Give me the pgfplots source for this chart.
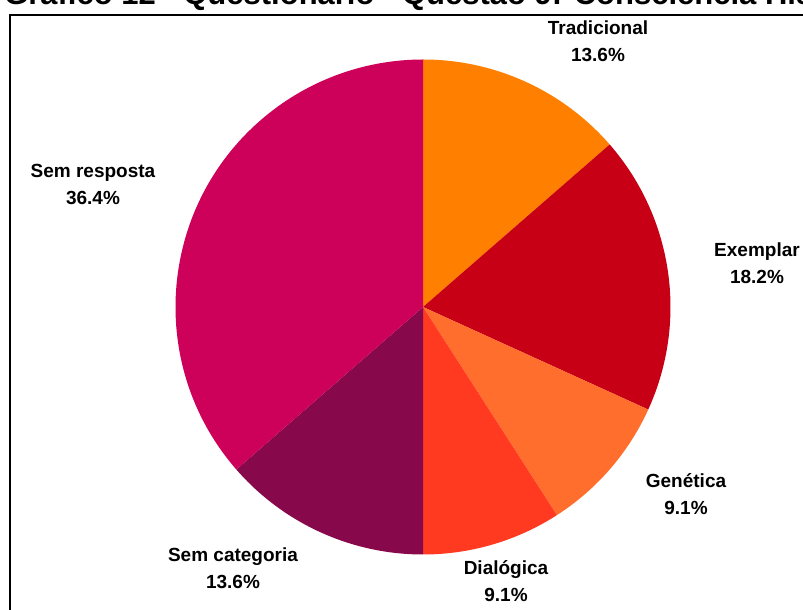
\documentclass[border=0pt]{standalone}
\usepackage{pgfplots}
\pgfplotsset{compat=1.18}
\usepackage{fontspec}
\setmainfont{Liberation Sans}

\definecolor{tradC}{RGB}{255,128,0}
\definecolor{exemC}{RGB}{200,0,22}
\definecolor{geneC}{RGB}{255,110,45}
\definecolor{dialC}{RGB}{255,58,32}
\definecolor{semcC}{RGB}{135,8,75}
\definecolor{semrC}{RGB}{205,0,90}

\tikzset{lbl/.style={font=\fontsize{19}{23}\selectfont\bfseries, anchor=base}}

\begin{document}
\begin{tikzpicture}
\begin{axis}[
  hide axis,
  scale only axis,
  width=803pt, height=610pt,
  xmin=0, xmax=803, ymin=0, ymax=610,
  anchor=south west, at={(0,0)},
]
% title, cut off at the top like in the reference
\node[font=\fontsize{31}{36}\selectfont\bfseries, anchor=base west, inner sep=0pt]
  at (axis cs:4,605) {Gráfico 12 - Questionário - Questão 9: Consciência Histórica};
% frame
\draw[line width=2.2pt] (axis cs:10,-20) -- (axis cs:10,595) -- (axis cs:830,595);

% percent / colour / label / label x / label baseline (from top)
\def\startangle{90}
\foreach \p/\c/\name/\lx/\ly in {
    13.6/tradC/Tradicional/598/35,
    18.2/exemC/Exemplar/757/257,
    9.1/geneC/Genética/686/488,
    9.1/dialC/Dialógica/506/575,
    13.6/semcC/Sem categoria/233/562,
    36.4/semrC/Sem resposta/93/178}{
  \pgfmathsetmacro\endangle{\startangle-3.6*\p}
  \pgfmathsetmacro\ya{610-\ly}
  \pgfmathsetmacro\yb{610-\ly-26.5}
  \edef\temp{
    \noexpand\fill[\c] (axis cs:423,303) -- ++(\startangle:247.5pt)
      arc[start angle=\startangle, end angle=\endangle, radius=247.5pt] -- cycle;
    \noexpand\node[lbl] at (axis cs:\lx,\ya) {\name};
    \noexpand\node[lbl] at (axis cs:\lx,\yb) {\p\noexpand\%};
  }
  \temp
  \xdef\startangle{\endangle}
}
\end{axis}
\pgfresetboundingbox
\path[use as bounding box] (0,0) rectangle (803pt,610pt);
\end{tikzpicture}
\end{document}
